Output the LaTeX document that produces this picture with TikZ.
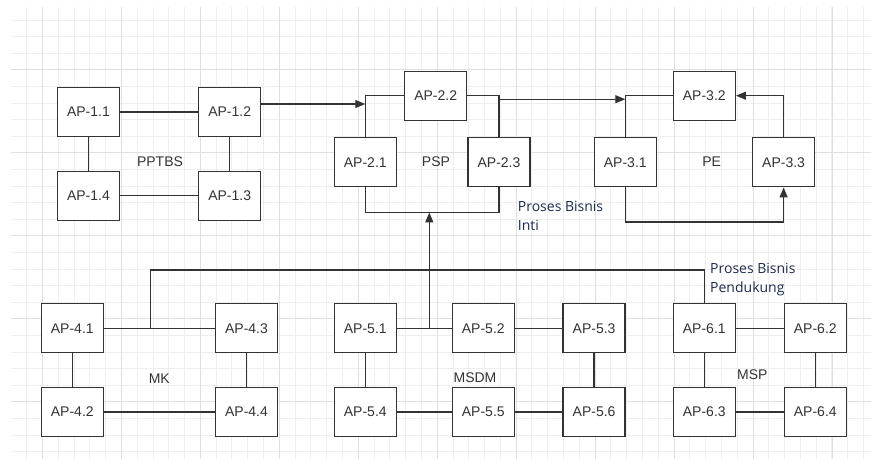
\documentclass[tikz,border=0pt]{standalone}
\usepackage{fontspec}
\setmainfont{Liberation Sans}
\newfontfamily\notefont{Open Sans}
\usepackage{tikz}
\usetikzlibrary{arrows.meta,positioning,calc,backgrounds}
\definecolor{gridminor}{HTML}{EEEEEE}
\definecolor{gridmajor}{HTML}{E0E0E0}
\definecolor{boxline}{HTML}{333333}
\definecolor{boxtext}{HTML}{333333}
\definecolor{notenavy}{HTML}{1F2A4D}
\tikzset{
  apbox/.style={rectangle,minimum width=62pt,minimum height=49pt,inner sep=0pt,
    draw=boxline,fill=white,text=boxtext,line width=1.3pt,
    font=\fontsize{14}{16}\selectfont},
  grp/.style={text=boxtext,inner sep=0pt,font=\fontsize{14}{16}\selectfont},
  link/.style={draw=boxline,line width=1.3pt},
  arr/.style={link,-{Triangle[length=10pt,width=8pt]}},
  note/.style={anchor=north west,align=left,inner sep=0pt,text=notenavy,
    font=\notefont\fontsize{14}{19}\selectfont},
}

\begin{document}
\begin{tikzpicture}[x=1pt,y=-1pt]
  \useasboundingbox (0,0) rectangle (871,459);
  % grid
  \foreach \i in {0,...,53}
    \draw[gridminor,line width=1pt] (26.7+15.79*\i,7) -- (26.7+15.79*\i,459);
  \foreach \j in {0,...,26}
    \draw[gridminor,line width=1pt] (11,20+16.6*\j) -- (871,20+16.6*\j);
  \foreach \i in {0,...,10}
    \draw[gridmajor,line width=1pt] (42.5+78.95*\i,7) -- (42.5+78.95*\i,459);
  \foreach \j in {0,...,5}
    \draw[gridmajor,line width=1pt] (11,69.8+83*\j) -- (871,69.8+83*\j);

  % PPTBS
  \node[apbox] (ap11) at (88.4,112) {AP-1.1};
  \node[apbox,right=78pt of ap11] (ap12) {AP-1.2};
  \node[apbox,below=33.5pt of ap11] (ap14) {AP-1.4};
  \node[apbox,below=33.5pt of ap12] (ap13) {AP-1.3};
  \node[grp] (pptbs) at (160,162) {PPTBS};
  \draw[link] (ap11) -- (ap12);
  \draw[link] (ap11) -- (ap14);
  \draw[link] (ap12) -- (ap13);
  \draw[link] (ap14) -- (ap13);

  % PSP
  \node[apbox] (ap22) at (435.7,95.7) {AP-2.2};
  \node[apbox] (ap21) at (365.3,162.3) {AP-2.1};
  \node[apbox,right=70.4pt of ap21] (ap23) {AP-2.3};
  \node[grp] (psp) at (436,162) {PSP};
  \draw[link] (ap21.north) |- (ap22.west);
  \draw[link] (ap22.east) -| (ap23.north);
  \draw[link] (ap21.south) -- ++(0,25) coordinate (pspin) -| (ap23.south);

  % PE
  \node[apbox] (ap32) at (704.3,95.7) {AP-3.2};
  \node[apbox] (ap31) at (625.3,162.3) {AP-3.1};
  \node[apbox,right=95pt of ap31] (ap33) {AP-3.3};
  \node[grp] (pe) at (711.7,162) {PE};
  \draw[link] (ap31.north) |- (ap32.west);
  \draw[arr] (ap33.north) |- (ap32.east);
  \draw[arr] (ap31.south) -- ++(0,34.4) -| (ap33.south);

  % flow between the core groups
  \draw[arr] ([yshift=8pt]ap12.east) -- ([yshift=8pt]ap12.east -| ap21.north);
  \coordinate (pspout) at ([yshift=-3.5pt]ap22.east -| ap23.north);
  \draw[arr] (pspout) -- (pspout -| ap31.north);
  \node[note] (inti) at (517.7,201) {Proses Bisnis\\Inti};

  % MK
  \node[apbox] (ap41) at (72.3,328.3) {AP-4.1};
  \node[apbox,right=110.9pt of ap41] (ap43) {AP-4.3};
  \node[apbox,below=33.4pt of ap41] (ap42) {AP-4.2};
  \node[apbox,below=33.4pt of ap43] (ap44) {AP-4.4};
  \node[grp] (mk) at (159.3,378.3) {MK};
  \draw[link] (ap41) -- (ap43);
  \draw[link] (ap41) -- (ap42);
  \draw[link] (ap43) -- (ap44);
  \draw[link] (ap42) -- (ap44);

  % MSDM
  \node[apbox] (ap51) at (365.3,328.3) {AP-5.1};
  \node[apbox,right=54.7pt of ap51] (ap52) {AP-5.2};
  \node[apbox,right=47.5pt of ap52] (ap53) {AP-5.3};
  \node[apbox,below=33.4pt of ap51] (ap54) {AP-5.4};
  \node[apbox,below=33.4pt of ap52] (ap55) {AP-5.5};
  \node[apbox,below=33.4pt of ap53] (ap56) {AP-5.6};
  \node[grp] (msdm) at (475,377.7) {MSDM};
  \draw[link] (ap51) -- (ap52);
  \draw[link] (ap52) -- (ap53);
  \draw[link] (ap51) -- (ap54);
  \draw[link] (ap53) -- (ap56);
  \draw[link] (ap54) -- (ap55);
  \draw[link] (ap55) -- (ap56);

  % MSP
  \node[apbox] (ap61) at (704.3,328.3) {AP-6.1};
  \node[apbox,right=47.7pt of ap61] (ap62) {AP-6.2};
  \node[apbox,below=33.4pt of ap61] (ap63) {AP-6.3};
  \node[apbox,below=33.4pt of ap62] (ap64) {AP-6.4};
  \node[grp] (msp) at (752.3,374.3) {MSP};
  \draw[link] (ap61) -- (ap62);
  \draw[link] (ap61) -- (ap63);
  \draw[link] (ap62) -- (ap64);
  \draw[link] (ap63) -- (ap64);

  % support processes feed the core
  \coordinate (mkout) at (150.7,328.3);
  \coordinate (msdmout) at (429.3,328.3);
  \draw[link] (mkout) -- ++(0,-58.3) -| (ap61.north);
  \draw[arr] (msdmout) -- (msdmout |- pspin);
  \node[note] (pendukung) at (710,263.5) {Proses Bisnis\\Pendukung};
\end{tikzpicture}
\end{document}
